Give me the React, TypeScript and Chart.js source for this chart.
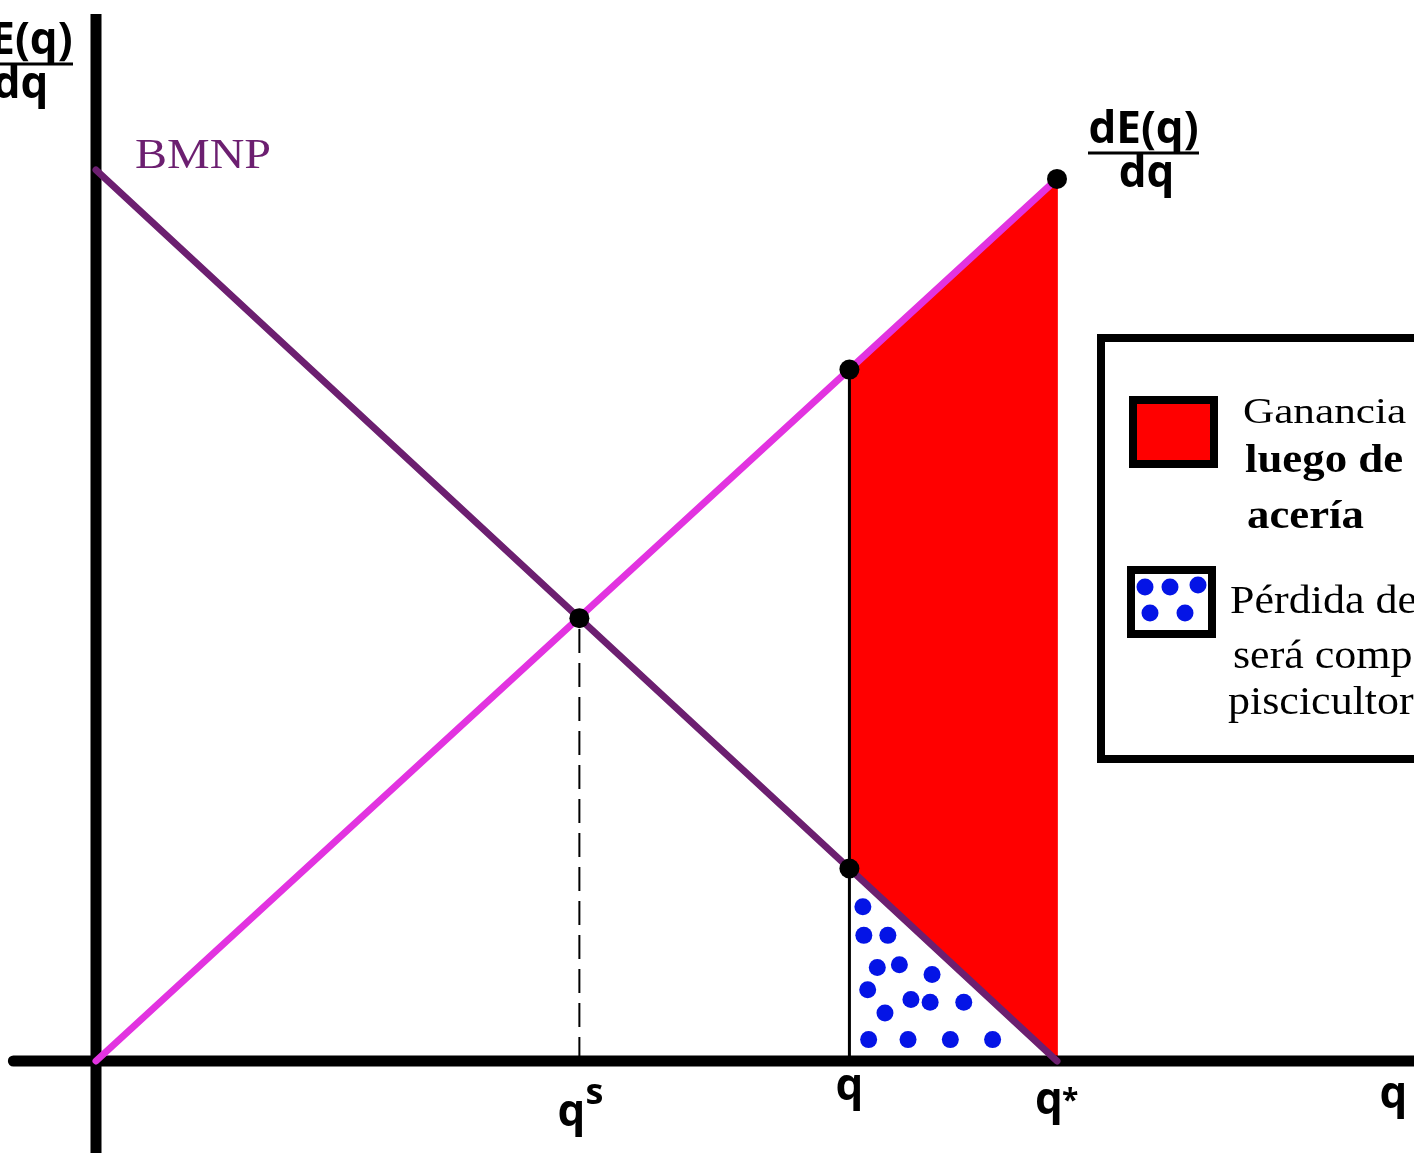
import { useEffect, useRef } from "react";
import { Chart, registerables } from "chart.js";

Chart.register(...registerables);

const W = 1414;
const H = 1153;

// Value ranges of the two linear scales (origin at q = 0, value = 0; q* = 10)
const xRange = [-0.999, 13.715];
const yRange = [-1.0325, 11.908];

// Quantities marked on the horizontal axis
const qS = 5.03;
const qBar = 7.84;
const qStar = 10;

// Curves
const bmnpCurve = [
  { x: 0, y: 10 },
  { x: 10, y: 0 },
];
const marginalDamageCurve = [
  { x: 0, y: 0 },
  { x: 10, y: 9.9 },
];

// Marked points: intersection, both curves at q, marginal damage at q*
const keyPoints = [
  { x: 5.03, y: 4.97 },
  { x: 7.84, y: 7.76 },
  { x: 7.84, y: 2.16 },
  { x: 10, y: 9.9 },
];

// Gain area between q and q* (between the two curves)
const gainArea = [
  { x: 7.84, y: 2.16 },
  { x: 7.84, y: 7.76 },
  { x: 10, y: 9.9 },
  { x: 10, y: 0 },
  { x: 7.84, y: 2.16 },
];

// Dotted pattern of the loss triangle under BMNP
const lossDots = [
  { x: 7.98, y: 1.73 },
  { x: 7.99, y: 1.41 },
  { x: 8.24, y: 1.41 },
  { x: 8.13, y: 1.05 },
  { x: 8.36, y: 1.08 },
  { x: 8.7, y: 0.97 },
  { x: 8.03, y: 0.8 },
  { x: 8.48, y: 0.69 },
  { x: 8.68, y: 0.66 },
  { x: 9.03, y: 0.66 },
  { x: 8.21, y: 0.54 },
  { x: 8.04, y: 0.24 },
  { x: 8.45, y: 0.24 },
  { x: 8.89, y: 0.24 },
  { x: 9.33, y: 0.24 },
];

// Axes and guides
const quantityAxis = [
  { x: -0.86, y: 0 },
  { x: 13.9, y: 0 },
];
const valueAxis = [
  { x: 0, y: -1.2 },
  { x: 0, y: 11.75 },
];
const qsGuide = [
  { x: qS, y: 0 },
  { x: qS, y: 4.97 },
];
const qGuide = [
  { x: qBar, y: 0 },
  { x: qBar, y: 7.76 },
];

// Tick labels under the quantity axis
const tickLabels = [
  { x: qS, text: "q", sup: "s", base: 1126 },
  { x: qBar, text: "q", sup: "", base: 1100 },
  { x: qStar, text: "q", sup: "*", base: 1114 },
  { x: 13.5, text: "q", sup: "", base: 1108 },
];

const legendGain = ["Ganancia neta", "luego de la", "acería"];
const legendLoss = ["Pérdida de los", "será compensada", "piscicultores"];

const PURPLE = "#6c1f70";
const MAGENTA = "#e233e0";
const RED = "#ff0000";
const BLUE = "#0414e6";
const SANS = "'Open Sans', 'DejaVu Sans', sans-serif";
const SERIF = "'Liberation Serif', 'DejaVu Serif', serif";

function fitText(
  ctx: CanvasRenderingContext2D,
  text: string,
  x: number,
  y: number,
  font: string,
  width?: number,
  sx = 1
) {
  ctx.font = font;
  const m = ctx.measureText(text).width;
  ctx.save();
  ctx.translate(x, y);
  ctx.scale(width ? width / m : sx, 1);
  ctx.fillText(text, 0, 0);
  ctx.restore();
}

function drawFraction(ctx: CanvasRenderingContext2D, left: number, right: number, barY: number) {
  const cx = (left + right) / 2;
  ctx.fillStyle = "#000";
  ctx.textAlign = "center";
  ctx.textBaseline = "alphabetic";
  ctx.font = `bold 44px ${SANS}`;
  ctx.fillText("dE(q)", cx, barY - 10);
  ctx.fillText("dq", cx + 3, barY + 34);
  ctx.fillRect(left, barY - 1.5, right - left, 3);
}

const annotations = {
  id: "annotations",
  afterDraw(chart: Chart) {
    const ctx = chart.ctx;
    const xs = chart.scales.x;
    ctx.save();

    // Curve labels
    ctx.fillStyle = PURPLE;
    ctx.textAlign = "left";
    ctx.textBaseline = "alphabetic";
    fitText(ctx, "BMNP", 135, 168, `42px ${SERIF}`, 136);
    drawFraction(ctx, 1088, 1199, 153);
    drawFraction(ctx, -38, 73, 64);

    // Quantity tick labels
    ctx.fillStyle = "#000";
    for (const t of tickLabels) {
      const px = xs.getPixelForValue(t.x);
      ctx.font = `bold 44px ${SANS}`;
      ctx.textAlign = "center";
      ctx.fillText(t.text, px - (t.sup ? 8 : 0), t.base);
      if (t.sup === "s") {
        ctx.font = `bold 36px ${SANS}`;
        ctx.textAlign = "left";
        ctx.fillText(t.sup, px + 6, t.base - 22);
      } else if (t.sup === "*") {
        ctx.font = `bold 30px ${SANS}`;
        ctx.textAlign = "left";
        ctx.fillText(t.sup, px + 5, t.base - 4);
      }
    }

    // Legend box
    ctx.strokeStyle = "#000";
    ctx.lineWidth = 8;
    ctx.strokeRect(1101, 338, 340, 421);

    // Gain swatch
    ctx.fillStyle = RED;
    ctx.fillRect(1133, 400, 81, 64);
    ctx.lineWidth = 8;
    ctx.strokeRect(1133, 400, 81, 64);

    // Loss swatch
    ctx.fillStyle = "#fff";
    ctx.fillRect(1131, 570, 81, 64);
    ctx.strokeRect(1131, 570, 81, 64);
    ctx.fillStyle = BLUE;
    for (const [dx, dy] of [
      [1145, 587],
      [1170, 587],
      [1198, 585],
      [1150, 613],
      [1185, 613],
    ]) {
      ctx.beginPath();
      ctx.arc(dx, dy, 8.5, 0, Math.PI * 2);
      ctx.fill();
    }

    // Legend text
    ctx.fillStyle = "#000";
    ctx.textAlign = "left";
    fitText(ctx, legendGain[0], 1243, 423, `36px ${SERIF}`, undefined, 1.2);
    fitText(ctx, legendGain[1], 1245, 472, `bold 40px ${SERIF}`, undefined, 1.12);
    fitText(ctx, legendGain[2], 1247, 528, `bold 40px ${SERIF}`, undefined, 1.12);
    fitText(ctx, legendLoss[0], 1230, 613, `40px ${SERIF}`, undefined, 1.1);
    fitText(ctx, legendLoss[1], 1233, 668, `40px ${SERIF}`, undefined, 1.1);
    fitText(ctx, legendLoss[2], 1228, 714, `40px ${SERIF}`, undefined, 1.1);

    ctx.restore();
  },
};

export default function App() {
  const ref = useRef<HTMLCanvasElement | null>(null);

  useEffect(() => {
    if (!ref.current) return;
    const line = (data: { x: number; y: number }[], color: string, width: number, order: number, extra = {}) => ({
      type: "line" as const,
      data,
      borderColor: color,
      borderWidth: width,
      pointRadius: 0,
      fill: false,
      tension: 0,
      order,
      ...extra,
    });

    const chart = new Chart(ref.current, {
      type: "line",
      data: {
        datasets: [
          {
            type: "line",
            data: keyPoints,
            showLine: false,
            pointRadius: 10,
            pointBackgroundColor: "#000",
            pointBorderWidth: 0,
            order: 0,
          },
          line(marginalDamageCurve, MAGENTA, 7, 1, { borderCapStyle: "round" }),
          line(bmnpCurve, PURPLE, 7, 2, { borderCapStyle: "round" }),
          line(quantityAxis, "#000", 11, 3, { borderCapStyle: "round" }),
          line(valueAxis, "#000", 11, 3),
          line(qGuide, "#000", 3, 4),
          line(qsGuide, "#000", 2, 4, { borderDash: [24, 10] }),
          {
            type: "line",
            data: lossDots,
            showLine: false,
            pointRadius: 8.5,
            pointBackgroundColor: BLUE,
            pointBorderWidth: 0,
            order: 5,
          },
          line(gainArea, RED, 1, 6, { fill: "shape", backgroundColor: RED }),
        ] as any,
      },
      options: {
        animation: false,
        responsive: false,
        devicePixelRatio: 1,
        events: [],
        layout: { padding: 0, autoPadding: false },
        plugins: {
          legend: { display: false },
          tooltip: { enabled: false },
        },
        scales: {
          x: { type: "linear", min: xRange[0], max: xRange[1], display: false },
          y: { type: "linear", min: yRange[0], max: yRange[1], display: false },
        },
      },
      plugins: [annotations],
    });
    return () => chart.destroy();
  }, []);

  return (
    <div style={{ position: "absolute", left: 0, top: 0, width: W, height: H, background: "#fff" }}>
      <canvas ref={ref} width={W} height={H} style={{ display: "block" }} />
    </div>
  );
}
